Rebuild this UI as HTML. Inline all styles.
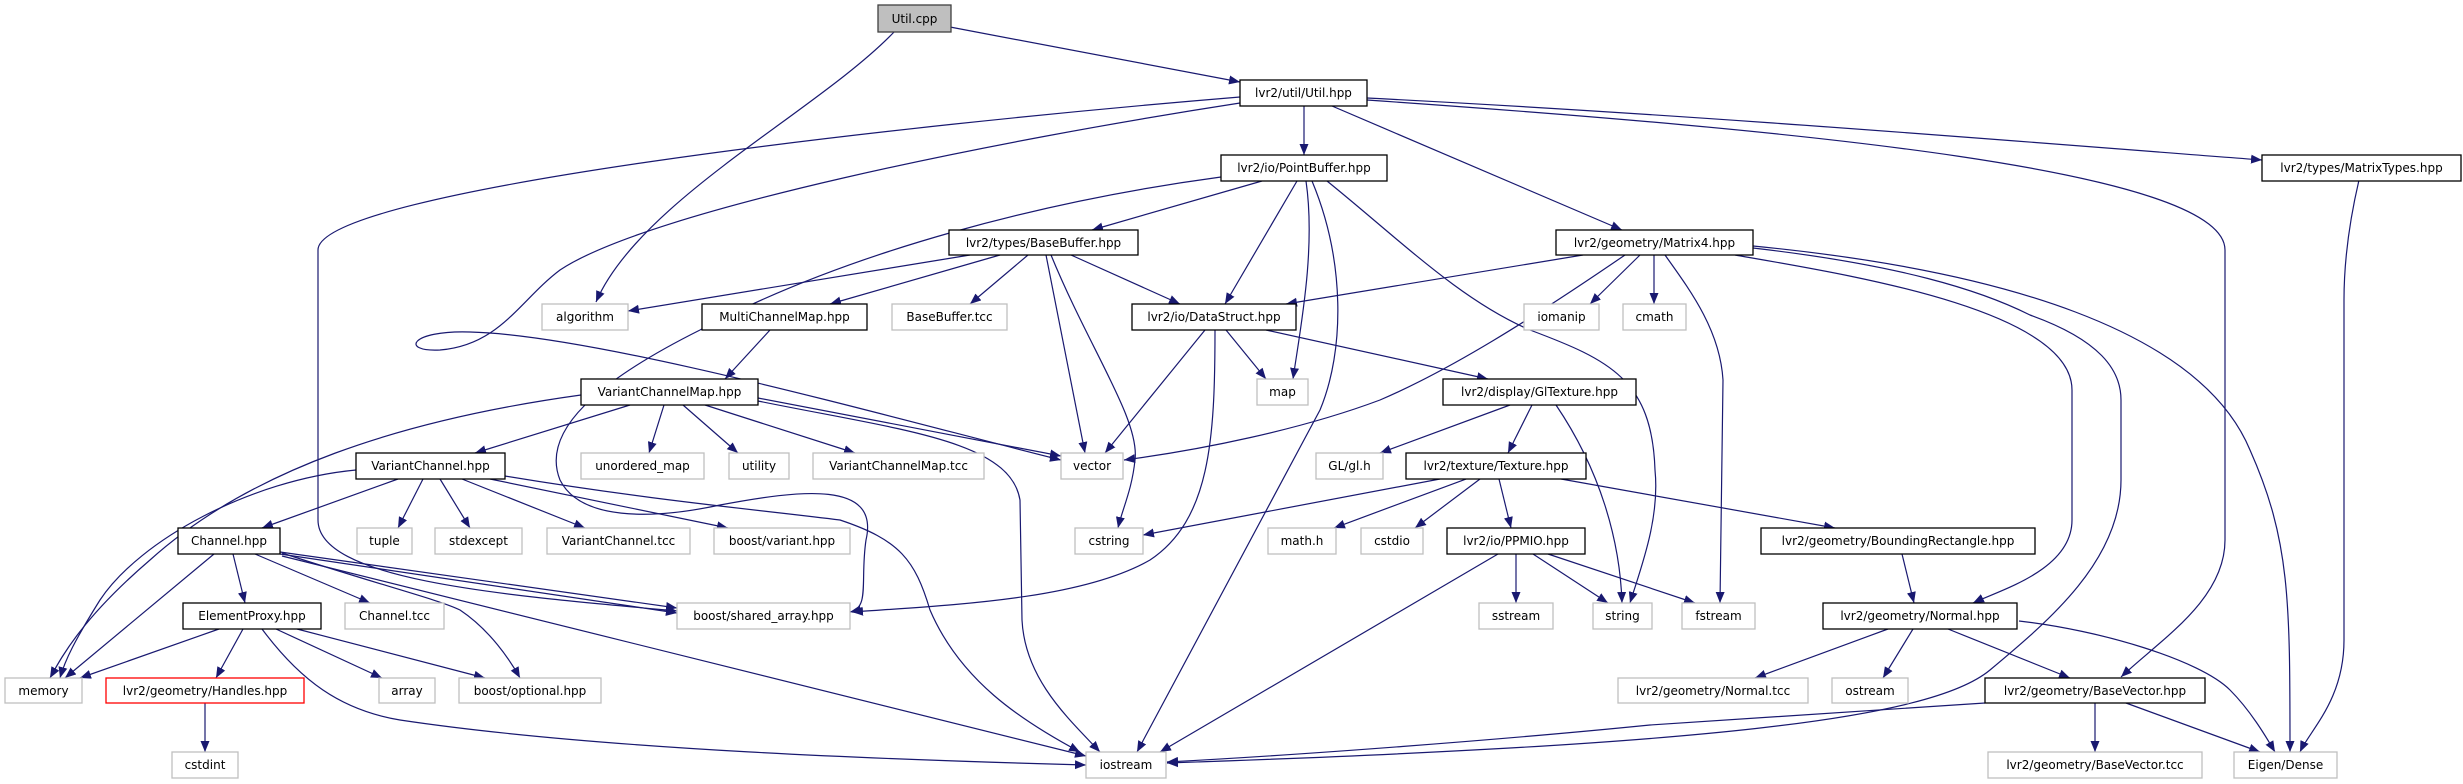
<!DOCTYPE html>
<html><head><meta charset="utf-8"><style>
html,body{margin:0;padding:0;background:#fff;}
svg{display:block;}
text{font-family:"DejaVu Sans","Liberation Sans",sans-serif;font-size:12px;fill:#000;text-anchor:middle;}
.e{fill:none;stroke:#191970;stroke-width:1.2;marker-end:url(#a);}
.g{fill:#fff;stroke:#bfbfbf;stroke-width:1.3;}
.b{fill:#fff;stroke:#000;stroke-width:1.3;}
</style></head><body>
<svg width="2463" height="784" viewBox="0 0 2463 784" xmlns="http://www.w3.org/2000/svg">
<defs><marker id="a" markerUnits="userSpaceOnUse" markerWidth="12" markerHeight="10" refX="11" refY="5" orient="auto"><path d="M0,0.5 L11,5 L0,9.5 z" fill="#191970"/></marker></defs>
<g>
<path class="e" d="M895,31 C820,110 640,200 596,302"/>
<path class="e" d="M950,27 L1240,82"/>
<path class="e" d="M1304,106 L1304,155"/>
<path class="e" d="M1332,106 L1622,230"/>
<path class="e" d="M1367,98 C1700,115 2000,140 2262,160"/>
<path class="e" d="M1367,100 C1800,130 2225,170 2225,250 L2225,540 C2225,600 2160,640 2121,677"/>
<path class="e" d="M1240,97 C900,125 318,190 318,250 L318,520 C318,580 500,595 677,611"/>
<path class="e" d="M1240,103 C1000,140 650,210 560,270 C520,300 500,345 440,350 C400,352 410,330 470,332 C600,335 900,420 1061,460"/>
<path class="e" d="M1262,181 L1092,230"/>
<path class="e" d="M1297,181 L1225,304"/>
<path class="e" d="M1306,181 C1316,250 1300,330 1293,379"/>
<path class="e" d="M1312,181 C1345,260 1345,350 1320,410 L1137,752"/>
<path class="e" d="M1327,181 C1400,240 1460,300 1530,330 C1610,360 1652,380 1655,470 C1660,520 1640,570 1630,603"/>
<path class="e" d="M1221,177 C1050,200 850,250 700,330 C600,380 540,430 560,480 C580,520 650,520 720,505 C800,490 880,480 866,540 C860,580 870,608 850,612"/>
<path class="e" d="M970,255 L628,311"/>
<path class="e" d="M1000,255 L830,304"/>
<path class="e" d="M1028,255 L970,304"/>
<path class="e" d="M1071,255 L1180,304"/>
<path class="e" d="M1046,255 L1085,453"/>
<path class="e" d="M1051,255 C1090,350 1140,420 1135,460 C1132,490 1122,510 1118,528"/>
<path class="e" d="M1583,255 L1286,304"/>
<path class="e" d="M1625,255 C1530,320 1450,370 1380,400 C1300,430 1200,450 1124,460"/>
<path class="e" d="M1640,255 L1590,304"/>
<path class="e" d="M1654,255 L1654,304"/>
<path class="e" d="M1665,255 C1690,290 1720,330 1723,380 L1720,603"/>
<path class="e" d="M1735,255 C1850,275 2072,310 2072,390 L2072,520 C2072,570 2000,590 1973,603"/>
<path class="e" d="M1753,248 C1900,265 1980,290 2030,315 C2100,340 2121,370 2121,400 L2121,480 C2121,560 2050,620 1990,670 C1930,720 1700,745 1167,763"/>
<path class="e" d="M1753,246 C2000,270 2200,330 2250,450 C2290,540 2290,600 2290,752"/>
<path class="e" d="M2359,180 C2345,240 2344,280 2344,300 L2344,640 C2344,700 2310,730 2300,752"/>
<path class="e" d="M1226,330 L1266,379"/>
<path class="e" d="M1266,330 L1488,379"/>
<path class="e" d="M1205,330 L1105,453"/>
<path class="e" d="M1215,330 C1215,440 1210,520 1150,560 C1080,600 950,605 852,612"/>
<path class="e" d="M1510,405 L1380,453"/>
<path class="e" d="M1532,405 L1508,453"/>
<path class="e" d="M1556,405 C1600,470 1620,540 1622,603"/>
<path class="e" d="M770,330 L725,379"/>
<path class="e" d="M581,395 C400,420 250,470 150,560 C80,620 60,660 50,678"/>
<path class="e" d="M630,405 L475,453"/>
<path class="e" d="M664,405 L649,453"/>
<path class="e" d="M683,405 L738,453"/>
<path class="e" d="M705,405 L855,453"/>
<path class="e" d="M758,398 L1061,456"/>
<path class="e" d="M758,401 C900,430 1010,440 1020,500 L1022,620 C1025,680 1070,720 1100,752"/>
<path class="e" d="M398,479 L262,528"/>
<path class="e" d="M423,479 L398,528"/>
<path class="e" d="M440,479 L470,528"/>
<path class="e" d="M462,479 L585,528"/>
<path class="e" d="M490,479 L728,528"/>
<path class="e" d="M505,476 C650,500 760,510 840,520 C900,540 915,560 930,610 C960,680 1020,720 1080,752"/>
<path class="e" d="M356,470 C250,480 140,540 100,600 C75,640 65,660 60,678"/>
<path class="e" d="M214,554 L65,678"/>
<path class="e" d="M233,554 L245,603"/>
<path class="e" d="M255,554 L370,603"/>
<path class="e" d="M280,552 L677,608"/>
<path class="e" d="M280,554 L677,613"/>
<path class="e" d="M282,553 C380,585 440,600 460,610 C490,630 510,660 520,678"/>
<path class="e" d="M282,556 L1086,756"/>
<path class="e" d="M219,629 L80,678"/>
<path class="e" d="M243,629 L216,678"/>
<path class="e" d="M276,629 L382,678"/>
<path class="e" d="M297,629 L485,678"/>
<path class="e" d="M262,629 C300,680 340,710 400,720 C600,750 900,760 1086,765"/>
<path class="e" d="M205,703 L205,752"/>
<path class="e" d="M1440,479 L1143,535"/>
<path class="e" d="M1466,479 L1334,528"/>
<path class="e" d="M1480,479 L1415,528"/>
<path class="e" d="M1499,479 L1511,528"/>
<path class="e" d="M1561,479 L1835,528"/>
<path class="e" d="M1516,554 L1516,603"/>
<path class="e" d="M1533,554 L1608,603"/>
<path class="e" d="M1548,554 L1695,603"/>
<path class="e" d="M1498,554 L1160,752"/>
<path class="e" d="M1902,554 L1914,603"/>
<path class="e" d="M1888,629 L1755,678"/>
<path class="e" d="M1913,629 L1883,678"/>
<path class="e" d="M1948,629 L2070,678"/>
<path class="e" d="M2019,621 C2100,630 2200,660 2230,690 C2250,710 2265,735 2275,752"/>
<path class="e" d="M2095,703 L2095,752"/>
<path class="e" d="M2126,703 L2260,752"/>
<path class="e" d="M1985,703 L1650,725 C1500,740 1300,755 1167,762"/>
</g>
<g>
<rect x="878" y="5" width="73" height="27" fill="#bfbfbf" stroke="#404040" stroke-width="1.3"/><text x="914.5" y="23">Util.cpp</text>
<rect class="b" x="1240" y="80" width="127" height="26"/><text x="1303.5" y="97">lvr2/util/Util.hpp</text>
<rect class="b" x="1221" y="155" width="166" height="26"/><text x="1304" y="172">lvr2/io/PointBuffer.hpp</text>
<rect class="b" x="2262" y="155" width="199" height="26"/><text x="2361.5" y="172">lvr2/types/MatrixTypes.hpp</text>
<rect class="b" x="949" y="230" width="189" height="25"/><text x="1043.5" y="247">lvr2/types/BaseBuffer.hpp</text>
<rect class="b" x="1556" y="230" width="197" height="25"/><text x="1654.5" y="247">lvr2/geometry/Matrix4.hpp</text>
<rect class="g" x="542" y="304" width="86" height="26"/><text x="585" y="321">algorithm</text>
<rect class="b" x="702" y="304" width="165" height="26"/><text x="784.5" y="321">MultiChannelMap.hpp</text>
<rect class="g" x="892" y="304" width="115" height="26"/><text x="949.5" y="321">BaseBuffer.tcc</text>
<rect class="b" x="1132" y="304" width="164" height="26"/><text x="1214" y="321">lvr2/io/DataStruct.hpp</text>
<rect class="g" x="1524" y="304" width="75" height="26"/><text x="1561.5" y="321">iomanip</text>
<rect class="g" x="1623" y="304" width="63" height="26"/><text x="1654.5" y="321">cmath</text>
<rect class="b" x="581" y="379" width="177" height="26"/><text x="669.5" y="396">VariantChannelMap.hpp</text>
<rect class="g" x="1257" y="379" width="51" height="26"/><text x="1282.5" y="396">map</text>
<rect class="b" x="1443" y="379" width="193" height="26"/><text x="1539.5" y="396">lvr2/display/GlTexture.hpp</text>
<rect class="b" x="356" y="453" width="149" height="26"/><text x="430.5" y="470">VariantChannel.hpp</text>
<rect class="g" x="581" y="453" width="123" height="26"/><text x="642.5" y="470">unordered_map</text>
<rect class="g" x="729" y="453" width="60" height="26"/><text x="759" y="470">utility</text>
<rect class="g" x="813" y="453" width="171" height="26"/><text x="898.5" y="470">VariantChannelMap.tcc</text>
<rect class="g" x="1061" y="453" width="62" height="26"/><text x="1092" y="470">vector</text>
<rect class="g" x="1316" y="453" width="67" height="26"/><text x="1349.5" y="470">GL/gl.h</text>
<rect class="b" x="1406" y="453" width="180" height="26"/><text x="1496" y="470">lvr2/texture/Texture.hpp</text>
<rect class="b" x="178" y="528" width="102" height="26"/><text x="229" y="545">Channel.hpp</text>
<rect class="g" x="357" y="528" width="55" height="26"/><text x="384.5" y="545">tuple</text>
<rect class="g" x="435" y="528" width="87" height="26"/><text x="478.5" y="545">stdexcept</text>
<rect class="g" x="547" y="528" width="143" height="26"/><text x="618.5" y="545">VariantChannel.tcc</text>
<rect class="g" x="714" y="528" width="136" height="26"/><text x="782" y="545">boost/variant.hpp</text>
<rect class="g" x="1075" y="528" width="68" height="26"/><text x="1109" y="545">cstring</text>
<rect class="g" x="1268" y="528" width="68" height="26"/><text x="1302" y="545">math.h</text>
<rect class="g" x="1361" y="528" width="62" height="26"/><text x="1392" y="545">cstdio</text>
<rect class="b" x="1447" y="528" width="138" height="26"/><text x="1516" y="545">lvr2/io/PPMIO.hpp</text>
<rect class="b" x="1761" y="528" width="274" height="26"/><text x="1898" y="545">lvr2/geometry/BoundingRectangle.hpp</text>
<rect class="b" x="183" y="603" width="138" height="26"/><text x="252" y="620">ElementProxy.hpp</text>
<rect class="g" x="345" y="603" width="99" height="26"/><text x="394.5" y="620">Channel.tcc</text>
<rect class="g" x="677" y="603" width="173" height="26"/><text x="763.5" y="620">boost/shared_array.hpp</text>
<rect class="g" x="1479" y="603" width="74" height="26"/><text x="1516" y="620">sstream</text>
<rect class="g" x="1593" y="603" width="59" height="26"/><text x="1622.5" y="620">string</text>
<rect class="g" x="1682" y="603" width="73" height="26"/><text x="1718.5" y="620">fstream</text>
<rect class="b" x="1823" y="603" width="194" height="26"/><text x="1920" y="620">lvr2/geometry/Normal.hpp</text>
<rect class="g" x="5" y="678" width="77" height="25"/><text x="43.5" y="695">memory</text>
<rect x="106" y="678" width="198" height="25" fill="#fff" stroke="#ff0000" stroke-width="1.3"/><text x="205" y="695">lvr2/geometry/Handles.hpp</text>
<rect class="g" x="379" y="678" width="56" height="25"/><text x="407" y="695">array</text>
<rect class="g" x="459" y="678" width="142" height="25"/><text x="530" y="695">boost/optional.hpp</text>
<rect class="g" x="1618" y="678" width="190" height="25"/><text x="1713" y="695">lvr2/geometry/Normal.tcc</text>
<rect class="g" x="1832" y="678" width="76" height="25"/><text x="1870" y="695">ostream</text>
<rect class="b" x="1985" y="678" width="220" height="25"/><text x="2095" y="695">lvr2/geometry/BaseVector.hpp</text>
<rect class="g" x="172" y="752" width="66" height="26"/><text x="205" y="769">cstdint</text>
<rect class="g" x="1086" y="752" width="80" height="26"/><text x="1126" y="769">iostream</text>
<rect class="g" x="1988" y="752" width="214" height="26"/><text x="2095" y="769">lvr2/geometry/BaseVector.tcc</text>
<rect class="g" x="2234" y="752" width="103" height="26"/><text x="2285.5" y="769">Eigen/Dense</text>
</g>
</svg>
</body></html>
